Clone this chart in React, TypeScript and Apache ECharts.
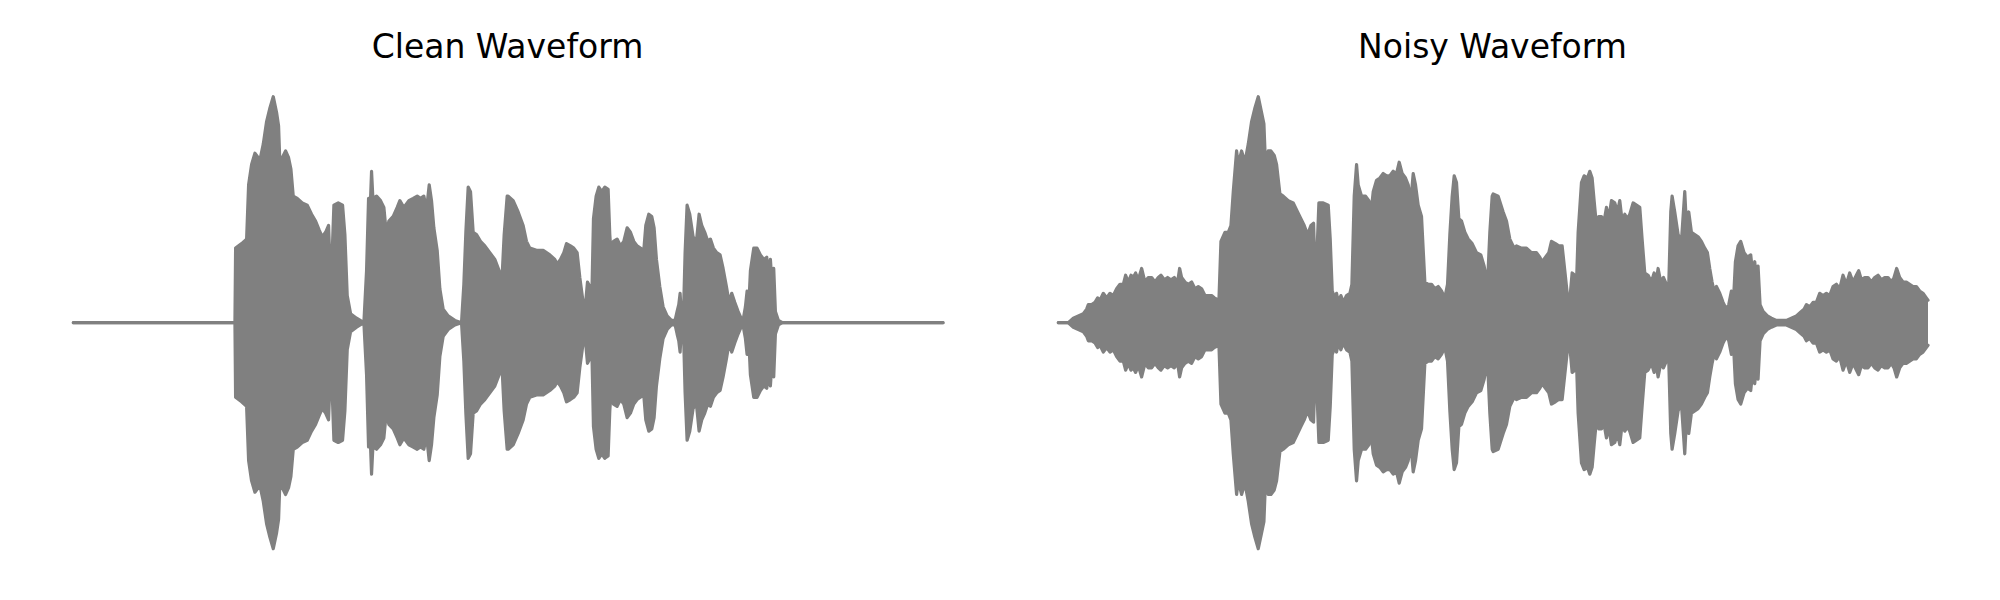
import React, { useEffect, useRef } from "react";
import * as echarts from "echarts";

// [time (ms), peak amplitude] — envelope of the waveform, drawn mirrored (+/-)
const cleanEnvelope: [number, number][] = [
  [1, 0], [486, 0], [488, 0.33], [506, 0.35], [521, 0.37], [527, 0.61], [536, 0.7], [546, 0.75],
  [561, 0.72], [571, 0.79], [581, 0.89], [591, 0.95], [601, 1.0], [611, 0.93], [617, 0.87], [621, 0.7],
  [628, 0.73], [638, 0.76], [647, 0.73], [654, 0.68], [661, 0.56], [673, 0.55], [688, 0.53], [703, 0.52],
  [716, 0.48], [728, 0.45], [739, 0.41], [748, 0.38], [758, 0.4], [767, 0.43], [774, 0.15], [783, 0.52],
  [796, 0.53], [809, 0.52], [816, 0.39], [823, 0.12], [833, 0.04], [851, 0.02], [873, 0.0], [881, 0.23],
  [887, 0.55], [893, 0.55], [896, 0.67], [900, 0.55], [911, 0.56], [923, 0.54], [933, 0.51], [940, 0.4],
  [948, 0.45], [961, 0.47], [973, 0.51], [981, 0.54], [993, 0.51], [1008, 0.54], [1021, 0.55], [1033, 0.56],
  [1043, 0.55], [1053, 0.56], [1061, 0.5], [1069, 0.61], [1076, 0.54], [1083, 0.42], [1093, 0.32], [1101, 0.15],
  [1111, 0.06], [1126, 0.03], [1146, 0.01], [1166, 0.0], [1173, 0.17], [1179, 0.4], [1186, 0.6], [1193, 0.58],
  [1201, 0.4], [1211, 0.39], [1223, 0.36], [1236, 0.34], [1251, 0.31], [1266, 0.28], [1279, 0.23], [1287, 0.18],
  [1294, 0.39], [1303, 0.56], [1306, 0.56], [1321, 0.54], [1336, 0.49], [1351, 0.43], [1361, 0.36], [1371, 0.33],
  [1391, 0.32], [1411, 0.32], [1431, 0.3], [1446, 0.28], [1453, 0.26], [1463, 0.28], [1473, 0.31], [1481, 0.35],
  [1493, 0.34], [1503, 0.33], [1513, 0.31], [1521, 0.2], [1531, 0.09], [1538, 0.08], [1544, 0.18], [1551, 0.16],
  [1557, 0.11], [1562, 0.46], [1570, 0.56], [1578, 0.6], [1587, 0.58], [1596, 0.6], [1606, 0.59], [1611, 0.39],
  [1616, 0.28], [1622, 0.36], [1633, 0.37], [1643, 0.34], [1653, 0.36], [1663, 0.42], [1673, 0.4], [1683, 0.36],
  [1693, 0.34], [1703, 0.33], [1713, 0.32], [1719, 0.43], [1728, 0.48], [1737, 0.47], [1744, 0.42], [1751, 0.28],
  [1761, 0.16], [1771, 0.07], [1783, 0.03], [1796, 0.01], [1807, 0.01], [1813, 0.05], [1818, 0.08], [1822, 0.13],
  [1826, 0.03], [1832, 0.03], [1837, 0.31], [1843, 0.52], [1851, 0.48], [1861, 0.38], [1871, 0.36], [1879, 0.48],
  [1887, 0.43], [1896, 0.4], [1905, 0.36], [1913, 0.37], [1922, 0.33], [1932, 0.31], [1942, 0.3], [1951, 0.24],
  [1961, 0.16], [1969, 0.09], [1977, 0.13], [1986, 0.09], [1996, 0.05], [2005, 0.02], [2012, 0.02], [2018, 0.07],
  [2023, 0.14], [2028, 0.07], [2033, 0.23], [2043, 0.33], [2053, 0.33], [2063, 0.3], [2073, 0.28], [2082, 0.29],
  [2087, 0.23], [2093, 0.28], [2098, 0.17], [2103, 0.24], [2108, 0.05], [2117, 0.01], [2129, 0.0], [2611, 0],
];

const noisyEnvelope: [number, number][] = [
  [1, 0], [31, 0], [46, 0.02], [61, 0.03], [76, 0.04], [86, 0.06], [91, 0.08], [101, 0.08],
  [111, 0.09], [119, 0.11], [126, 0.1], [136, 0.13], [146, 0.11], [156, 0.13], [166, 0.12], [176, 0.15],
  [186, 0.17], [196, 0.17], [203, 0.21], [211, 0.18], [219, 0.21], [226, 0.2], [233, 0.22], [241, 0.19],
  [251, 0.24], [261, 0.18], [271, 0.2], [281, 0.2], [291, 0.18], [301, 0.2], [309, 0.21], [319, 0.19],
  [329, 0.2], [339, 0.19], [349, 0.2], [359, 0.18], [365, 0.24], [371, 0.2], [381, 0.18], [391, 0.17],
  [401, 0.18], [411, 0.15], [421, 0.16], [431, 0.15], [441, 0.12], [451, 0.12], [461, 0.12], [469, 0.11],
  [483, 0.1], [489, 0.36], [501, 0.4], [511, 0.4], [519, 0.43], [526, 0.58], [536, 0.76], [541, 0.7],
  [551, 0.76], [561, 0.71], [571, 0.79], [581, 0.89], [591, 0.95], [601, 1.0], [611, 0.93], [618, 0.88],
  [623, 0.69], [631, 0.76], [639, 0.76], [649, 0.74], [656, 0.7], [666, 0.57], [676, 0.56], [691, 0.54],
  [706, 0.53], [719, 0.49], [729, 0.46], [739, 0.43], [749, 0.39], [759, 0.43], [767, 0.44], [773, 0.15],
  [783, 0.53], [796, 0.53], [811, 0.52], [817, 0.37], [823, 0.14], [831, 0.11], [836, 0.13], [841, 0.09],
  [849, 0.12], [856, 0.09], [866, 0.12], [876, 0.13], [882, 0.17], [889, 0.56], [896, 0.7], [901, 0.61],
  [911, 0.56], [923, 0.56], [933, 0.54], [939, 0.48], [946, 0.58], [956, 0.63], [966, 0.64], [976, 0.66],
  [986, 0.65], [996, 0.65], [1006, 0.67], [1016, 0.66], [1024, 0.71], [1033, 0.66], [1043, 0.64], [1051, 0.61],
  [1059, 0.54], [1066, 0.66], [1073, 0.61], [1081, 0.52], [1091, 0.47], [1101, 0.18], [1111, 0.17], [1121, 0.17],
  [1131, 0.15], [1141, 0.16], [1151, 0.14], [1161, 0.11], [1169, 0.17], [1176, 0.39], [1183, 0.56], [1189, 0.65],
  [1196, 0.62], [1203, 0.46], [1211, 0.45], [1221, 0.4], [1231, 0.37], [1243, 0.35], [1256, 0.31], [1269, 0.3],
  [1279, 0.25], [1289, 0.17], [1296, 0.4], [1303, 0.56], [1306, 0.57], [1321, 0.56], [1336, 0.49], [1346, 0.45],
  [1356, 0.37], [1369, 0.33], [1376, 0.34], [1391, 0.33], [1406, 0.33], [1421, 0.31], [1436, 0.31], [1446, 0.29],
  [1453, 0.27], [1463, 0.29], [1473, 0.31], [1481, 0.36], [1493, 0.35], [1503, 0.34], [1513, 0.34], [1521, 0.23],
  [1529, 0.12], [1537, 0.12], [1543, 0.22], [1551, 0.21], [1556, 0.17], [1561, 0.4], [1571, 0.62], [1579, 0.65],
  [1589, 0.64], [1596, 0.67], [1603, 0.64], [1609, 0.54], [1616, 0.43], [1623, 0.47], [1631, 0.47], [1639, 0.45],
  [1646, 0.51], [1653, 0.46], [1661, 0.54], [1671, 0.53], [1679, 0.49], [1686, 0.54], [1693, 0.45], [1701, 0.48],
  [1709, 0.46], [1716, 0.48], [1726, 0.53], [1736, 0.52], [1746, 0.51], [1753, 0.37], [1761, 0.22], [1771, 0.21],
  [1781, 0.18], [1789, 0.22], [1796, 0.19], [1801, 0.24], [1809, 0.18], [1817, 0.2], [1826, 0.17], [1833, 0.17],
  [1839, 0.49], [1843, 0.56], [1851, 0.49], [1861, 0.39], [1871, 0.36], [1881, 0.58], [1886, 0.43], [1893, 0.49],
  [1901, 0.4], [1911, 0.39], [1921, 0.38], [1931, 0.36], [1941, 0.33], [1949, 0.31], [1956, 0.24], [1963, 0.18],
  [1969, 0.14], [1976, 0.16], [1986, 0.13], [1996, 0.09], [2006, 0.06], [2013, 0.08], [2021, 0.14], [2027, 0.09],
  [2033, 0.27], [2041, 0.34], [2049, 0.36], [2059, 0.31], [2069, 0.29], [2079, 0.3], [2084, 0.23], [2091, 0.27],
  [2096, 0.19], [2101, 0.25], [2107, 0.08], [2116, 0.05], [2129, 0.03], [2141, 0.02], [2156, 0.01], [2171, 0.01],
  [2186, 0.01], [2201, 0.02], [2216, 0.03], [2231, 0.05], [2239, 0.06], [2246, 0.08], [2256, 0.07], [2266, 0.09],
  [2276, 0.09], [2286, 0.13], [2296, 0.12], [2306, 0.13], [2316, 0.12], [2326, 0.16], [2336, 0.17], [2346, 0.15],
  [2356, 0.21], [2366, 0.17], [2376, 0.22], [2386, 0.18], [2396, 0.21], [2403, 0.23], [2411, 0.19], [2421, 0.2],
  [2431, 0.2], [2441, 0.18], [2451, 0.2], [2461, 0.21], [2471, 0.19], [2481, 0.2], [2491, 0.2], [2501, 0.18],
  [2509, 0.2], [2517, 0.24], [2526, 0.2], [2536, 0.18], [2546, 0.18], [2556, 0.17], [2566, 0.16], [2576, 0.16],
  [2586, 0.14], [2596, 0.13], [2606, 0.11], [2611, 0.1],
];

const panelTitles = ["Clean Waveform", "Noisy Waveform"];
const timeRange = [0, 2611];
const ampRange = [-1.1, 1.1];

export default function App() {
  const ref = useRef<HTMLDivElement>(null);

  useEffect(() => {
    if (!ref.current) return;
    const chart = echarts.init(ref.current, null, { renderer: "svg" });
    const gray = "#808080";
    const envelopes = [cleanEnvelope, noisyEnvelope];
    const gridLefts = [73, 1058];
    const gridW = 870;
    const gridTop = 74.1;
    const gridH = 497.2;
    const overlap = 0.004; // the two halves overlap slightly so no seam shows at zero

    const series: any[] = [];
    envelopes.forEach((env, i) => {
      [1, -1].forEach((sign) => {
        series.push({
          type: "line",
          xAxisIndex: i,
          yAxisIndex: i,
          data: env.map(([t, a]) => [t, sign * a]),
          symbol: "none",
          showSymbol: false,
          smooth: false,
          silent: true,
          lineStyle: { color: gray, width: 3.2, cap: "round", join: "round" },
          areaStyle: { color: gray, opacity: 1, origin: -sign * overlap },
        });
      });
    });

    chart.setOption({
      animation: false,
      backgroundColor: "#ffffff",
      grid: gridLefts.map((l) => ({ left: l, top: gridTop, width: gridW, height: gridH })),
      xAxis: gridLefts.map((_, i) => ({
        type: "value",
        gridIndex: i,
        min: timeRange[0],
        max: timeRange[1],
        show: false,
      })),
      yAxis: gridLefts.map((_, i) => ({
        type: "value",
        gridIndex: i,
        min: ampRange[0],
        max: ampRange[1],
        show: false,
      })),
      graphic: panelTitles.map((txt, i) => ({
        type: "text",
        x: gridLefts[i] + gridW / 2 - 0.5,
        y: 46,
        style: {
          text: txt,
          fill: "#000000",
          font: "33px 'DejaVu Sans'",
          align: "center",
          verticalAlign: "middle",
        },
      })),
      series,
    });

    return () => chart.dispose();
  }, []);

  return (
    <div
      ref={ref}
      style={{ position: "absolute", left: 0, top: 0, width: 2000, height: 600, background: "#fff" }}
    />
  );
}
